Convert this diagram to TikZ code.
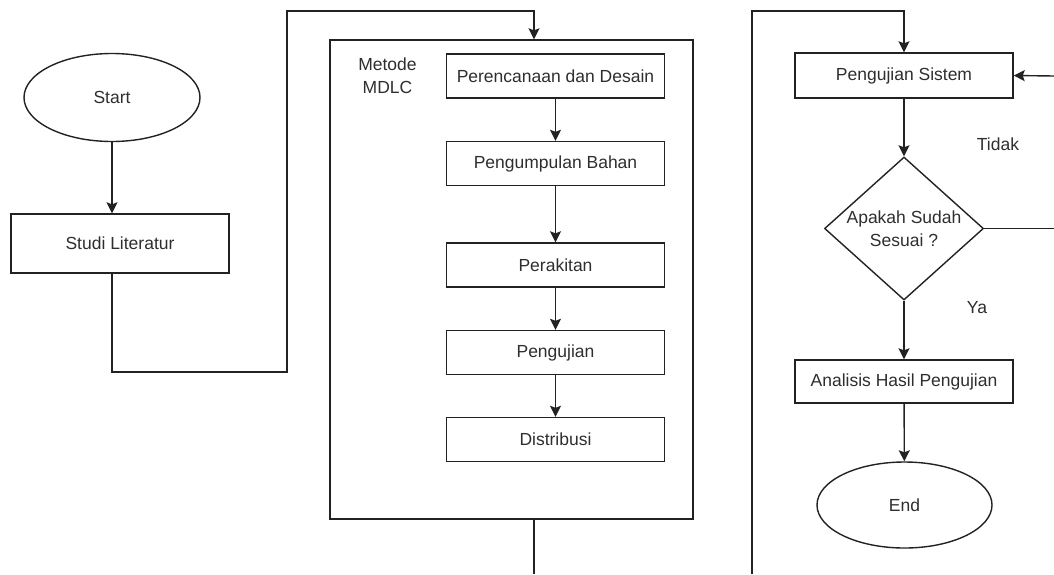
\documentclass[tikz,border=0pt]{standalone}
\usepackage{fontspec}
\setmainfont{Liberation Sans}
\usetikzlibrary{shapes.geometric,arrows.meta}
\definecolor{ln}{HTML}{222222}
\definecolor{tx}{HTML}{2E2E2E}
\tikzset{
  every node/.style={font=\fontsize{17.5}{22.5}\selectfont, text=tx},
  conn/.style={draw=ln, line width=1.4pt},
  arr/.style={conn, -{Stealth[length=11pt,width=11pt,inset=2pt]}},
  procbox/.style={draw=ln, line width=1.4pt, rectangle, minimum width=218pt, minimum height=44pt, inner sep=0pt},
  term/.style={draw=ln, line width=1.4pt, ellipse, inner sep=0pt},
  plain/.style={align=center, inner sep=0pt}
}
\begin{document}
\begin{tikzpicture}[x=1pt,y=-1pt]
\useasboundingbox (0,0) rectangle (1054,574);
% left column
\node[term, minimum width=176pt, minimum height=88pt] (start) at (112,97.5) {Start};
\node[procbox, minimum height=59pt] (studi) at (120,243.5) {Studi Literatur};
% method box
\node[draw=ln, line width=1.4pt, rectangle, minimum width=363pt, minimum height=479pt, inner sep=0pt] (mdlc) at (511.5,279.5) {};
\node[plain] (mlabel) at (387.5,75.5) {Metode\\MDLC};
\node[procbox] (p1) at (555.5,76) {Perencanaan dan Desain};
\node[procbox] (p2) at (555.5,163.5) {Pengumpulan Bahan};
\node[procbox] (p3) at (555.5,265) {Perakitan};
\node[procbox] (p4) at (555.5,352.5) {Pengujian};
\node[procbox] (p5) at (555.5,439.5) {Distribusi};
% right column
\node[procbox, minimum height=45pt] (sys) at (904,75.5) {Pengujian Sistem};
\node[draw=ln, line width=1.4pt, diamond, minimum width=159pt, minimum height=143pt, inner sep=0pt,
      label={[plain, text=tx]center:Apakah Sudah\\Sesuai ?}] (dec) at (904,228.5) {};
\node[procbox, minimum height=43pt] (ana) at (904,381.5) {Analisis Hasil Pengujian};
\node[term, minimum width=175pt, minimum height=86pt] (fin) at (904.5,505) {End};
\node[plain] (tidak) at (998,144) {Tidak};
\node[plain] (ya) at (977,308) {Ya};
% free ends
\coordinate (mdlcout) at (534,574);
\coordinate (rin) at (752,574);
\coordinate (loopout) at (1054,228.5);
\coordinate (loopin) at (1054,76);
% connectors
\draw[arr] (start.south) -- (start.south |- studi.north);
\draw[arr] (start.south |- studi.south) -- (112,372) -- (287,372) -- (287,11) -- (534,11) -- (534,0 |- mdlc.north);
\draw[arr] (p1) -- (p2);
\draw[arr] (p2) -- (p3);
\draw[arr] (p3) -- (p4);
\draw[arr] (p4) -- (p5);
\draw[conn] (mdlcout |- mdlc.south) -- (mdlcout);
\draw[arr] (rin) -- (752,11) -- (904,11) -- (sys.north);
\draw[arr] (sys) -- (dec);
\draw[conn] (dec.east) -- (loopout);
\draw[arr] (loopin) -- (sys.east);
\draw[arr] (dec) -- (ana);
\draw[arr] (ana) -- (fin);
\end{tikzpicture}
\end{document}
